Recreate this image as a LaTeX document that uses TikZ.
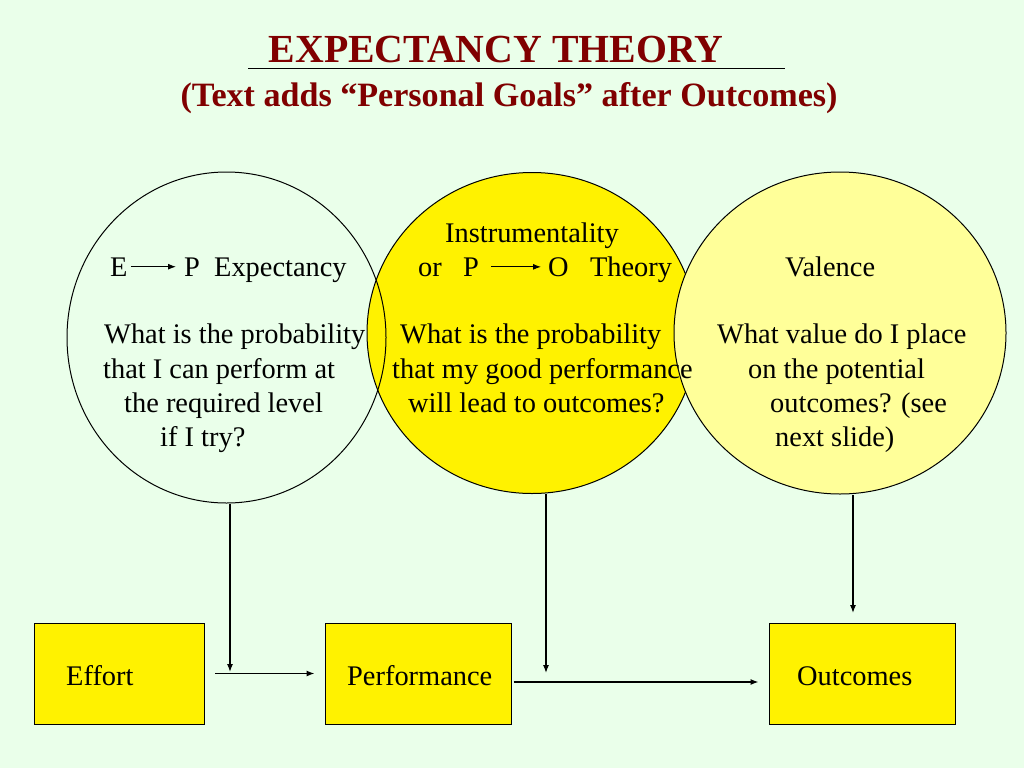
\documentclass[tikz,border=0pt]{standalone}
\usepackage{fontspec}
\setmainfont{Liberation Serif}
\usepackage{tikz}
\usetikzlibrary{arrows.meta}
\usetikzlibrary{positioning,calc}
\usetikzlibrary{shapes.geometric}
\definecolor{slidebg}{RGB}{234,255,234}
\definecolor{titlered}{RGB}{128,0,0}
\definecolor{paleyellow}{RGB}{255,255,153}
\tikzset{
  bubble/.style={ellipse,draw,line width=1pt,inner sep=0pt},
  box/.style={rectangle,draw,fill=yellow,line width=1pt,inner sep=0pt},
  txt/.style={anchor=base west,inner sep=0pt,font=\fontsize{28.4}{34}\selectfont},
  head/.style={anchor=base,inner sep=0pt,text=titlered},
  arr/.style={-{Latex[length=8pt,width=6pt]},line width=1.2pt},
}
\begin{document}
\begin{tikzpicture}[x=1pt,y=-1pt]
		\fill[slidebg] (0,0) rectangle (1024,768);
		\useasboundingbox (0,0) rectangle (1024,768);
		\node[head,font=\fontsize{39.8}{40}\selectfont\bfseries] (title) at (496,63) {EXPECTANCY THEORY};
		\draw[line width=1pt] (248,68) -- (785,68);
		\node[head,font=\fontsize{34.1}{36}\selectfont\bfseries] (subtitle) at (509,106) {(Text adds “Personal Goals” after Outcomes)};
		\node[bubble,fill=yellow,minimum width=330pt,minimum height=321pt] (instr) at (532,333) {};
		\node[bubble,minimum width=319pt,minimum height=331pt] (expect) at (226.5,337.5) {};
		\node[bubble,fill=paleyellow,minimum width=332pt,minimum height=322pt] (valence) at (840,333) {};
		\node[txt] (eL) at (110,276) {E};
		\node[txt] (pL) at (184,276) {P~~Expectancy};
		\node[txt] (qL1) at (104,343) {What is the probability};
		\node[txt] (qL2) at (103,378) {that I can perform at};
		\node[txt] (qL3) at (124,412) {the required level};
		\node[txt] (qL4) at (160,446) {if I try?};
		\node[txt] (iM) at (445,242) {Instrumentality};
		\node[txt] (pM) at (418,276) {or~~~P};
		\node[txt] (oM) at (548,276) {O~~~Theory};
		\node[txt] (qM1) at (400,343) {What is the probability};
		\node[txt] (qM2) at (392,378) {that my good performance};
		\node[txt] (qM3) at (408,412) {will lead to outcomes?};
		\node[txt] (vR) at (785,276) {Valence};
		\node[txt] (qR1) at (717,343) {What value do I place};
		\node[txt] (qR2) at (748,378) {on the potential};
		\node[txt] (qR3) at (770,412) {outcomes? (see};
		\node[txt] (qR4) at (775,446) {next slide)};
		\draw[arr,line width=1pt,shorten <=3pt,shorten >=8pt] (eL.east) -- (eL.east -| pL.west);
		\draw[arr,line width=1pt,shorten <=12pt,shorten >=7pt] (pM.east) -- (pM.east -| oM.west);
		\node[box,minimum width=170pt,minimum height=101pt] (effort) at (119.5,673.5) {};
		\node[box,minimum width=186pt,minimum height=101pt] (perf) at (418,673.5) {};
		\node[box,minimum width=186pt,minimum height=101pt] (outc) at (862,673.5) {};
		\node[txt] (effortT) at (66,685) {Effort};
		\node[txt] (perfT) at (347,685) {Performance};
		\node[txt] (outcT) at (797,685) {Outcomes};
		\coordinate (ea) at (230,672);
		\coordinate (ia) at (546,673);
		\coordinate (va) at (853,613);
		\draw[arr] (ea |- expect.south) -- (ea);
		\draw[arr] (ia |- instr.south) -- (ia);
		\draw[arr] (va |- valence.south) -- (va);
		\draw[arr] ([xshift=10pt]effort.east) -- ([xshift=-10pt]perf.west);
		\draw[arr] ([xshift=2pt,yshift=-8.5pt]perf.east) -- ([xshift=-10pt,yshift=-8.5pt]outc.west);
	\end{tikzpicture}
\end{document}
